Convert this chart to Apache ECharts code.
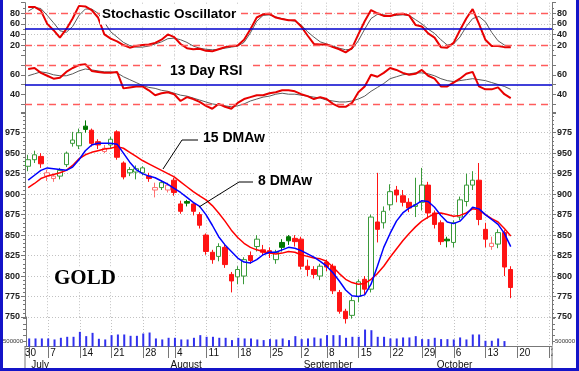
<!DOCTYPE html>
<html><head><meta charset="utf-8">
<script src="https://cdn.jsdelivr.net/npm/echarts@6/dist/echarts.min.js"></script>
<style>
html,body{margin:0;padding:0;background:#fff;}
#wrap{position:relative;width:579px;height:371px;}
#c{width:579px;height:371px;}
#frame{position:absolute;left:0;top:0;width:579px;height:371px;box-sizing:border-box;border-left:3px solid #1414c8;border-right:3px solid #1414c8;border-bottom:3px solid #1414c8;pointer-events:none;}
</style></head>
<body>
<div id="wrap"><div id="c"></div><div id="frame"></div></div>
<script>
// ---------- data ----------
const dates = ['06-30','07-01','07-02','07-03','07-07','07-08','07-09','07-10','07-11','07-14','07-15','07-16','07-17','07-18','07-21','07-22','07-23','07-24','07-25','07-28','07-29','07-30','07-31','08-01','08-04','08-05','08-06','08-07','08-08','08-11','08-12','08-13','08-14','08-15','08-18','08-19','08-20','08-21','08-22','08-25','08-26','08-27','08-28','08-29','09-02','09-03','09-04','09-05','09-08','09-09','09-10','09-11','09-12','09-15','09-16','09-17','09-18','09-19','09-22','09-23','09-24','09-25','09-26','09-29','09-30','10-01','10-02','10-03','10-06','10-07','10-08','10-09','10-10','10-13','10-14','10-15','10-16','10-17','10-20','10-21','10-22','10-23','10-24','10-27'];
const weekStarts = ['06-30','07-07','07-14','07-21','07-28','08-04','08-11','08-18','08-25','09-02','09-08','09-15','09-22','09-29','10-06','10-13','10-20','10-27'];
const monthStarts = ['07-01','08-01','09-02','10-01'];
const monthNames = ['July','August','September','October'];

// price candles from 07-01 to 10-17
const opens = [934,942,946,922,919,922,936,962,959,983,
978,964,952,960,976,938,926,927,926,922,
905,908,905,917,888,891,888,875,850,829,
824,835,802,799,800,825,836,832,831,820,
841,848,846,845,812,808,800,817,812,780,
757,752,775,796,784,866,865,887,905,898,
890,885,890,911,877,865,845,841,872,891,
911,917,857,836,839,853,808];
const closes = [942,948,937,926,922,929,950,966,975,979,
962,960,956,967,945,921,930,931,932,919,
908,914,911,902,879,889,879,862,830,820,
836,814,794,808,820,819,845,829,828,829,
835,843,842,812,808,802,812,811,782,757,
748,770,793,784,872,857,879,903,899,890,
883,887,911,877,863,842,843,865,893,911,
917,869,845,840,853,811,786];
const lows = [928,938,932,916,915,918,933,958,955,975,
958,955,950,955,942,918,922,918,923,915,
896,905,902,898,876,885,874,858,826,815,
818,810,780,790,790,815,830,825,822,815,
830,838,836,808,800,797,795,806,778,754,
742,748,768,777,780,841,858,880,890,885,
878,872,880,870,858,838,835,835,868,885,
905,862,835,832,834,800,773];
const highs = [948,953,950,930,925,932,952,976,980,990,
980,967,960,970,978,940,933,935,934,926,
914,917,914,920,892,893,890,878,852,832,
840,838,805,812,823,830,850,838,835,832,
845,850,850,848,820,812,815,820,815,783,
760,775,796,800,875,926,885,912,910,905,
895,920,932,915,880,868,848,868,897,925,
928,938,865,848,857,856,812];
// volume in thousands (07-01 .. 10-16)
const volume = [722,722,722,722,635,780,867,867,1300,925,
1213,693,635,1011,1069,1069,953,953,1156,1242,
722,635,780,780,635,635,780,1011,867,867,
780,780,578,780,722,722,635,578,664,635,
722,578,925,664,722,809,722,1011,1011,1011,
780,867,867,1502,1444,867,867,722,722,809,
809,925,664,664,780,664,664,635,809,635,
1069,1069,520,520,722,491];
const ma8 = [917,923,929,932,931,930,929,933,942,953,
960,962,962,962,961,950,939,930,925,922,
920,916,912,907,902,896,890,885,875,862,
848,838,830,822,817,816,820,826,829,829,
832,835,834,831,827,823,818,812,804,794,
783,776,775,777,790,812,835,852,867,877,
883,887,892,891,884,874,866,864,867,875,
884,882,875,869,863,852,836];
const ma15 = [908,913,919,922,924,926,929,935,943,948,
951,953,955,956,958,956,951,946,941,937,
933,929,925,921,915,909,903,898,893,886,
877,867,856,847,840,835,832,830,828,827,
828,830,829,826,824,822,821,818,811,803,
796,792,790,791,796,803,812,823,833,843,
852,860,867,872,876,877,875,873,874,877,
882,881,875,870,866,858,849];
const stochK = [92,92,85,60,48,34,50,70,94,93,
86,72,40,32,27,20,15,18,20,21,
24,30,40,35,22,14,12,13,9,8,
12,16,18,19,30,50,72,78,79,72,
69,67,67,55,38,22,21,21,16,12,
6,14,40,65,86,80,75,75,78,79,
76,58,55,42,34,16,15,24,48,70,
88,60,30,18,18,16,16];
const stochD = [84,91,89,76,62,47,44,55,76,88,
88,80,63,45,35,25,19,16,16,18,
22,26,32,33,30,25,18,14,12,11,
12,14,16,18,25,43,65,76,77,73,
70,67,65,58,45,35,26,22,18,14,
11,12,28,50,70,78,77,75,76,77,
76,68,60,50,42,30,20,22,35,55,
70,74,64,44,28,20,16];
const rsi = [66,67,62,59,56,57,63,67,70,71,
64,63,62,62,63,46,47,48,48,44,
39,41,42,40,33,37,35,32,28,25,
30,27,25,31,35,37,39,39,41,42,
44,44,43,40,38,35,37,35,30,27,
27,31,42,48,60,58,62,67,65,62,
60,61,65,59,56,48,48,52,56,61,
63,48,45,45,47,40,36];
const rsiAvg = [59,61,63,62,60,59,59,61,64,66,
65,64,63,63,62,58,55,52,49,47,
46,44,43,41,39,38,36,34,32,30,
29,28,27,28,30,33,35,37,38,40,
41,40,40,39,38,37,36,34,33,32,
32,33,35,38,43,47,51,56,58,60,
61,62,62,61,59,56,54,53,54,55,
56,55,54,52,50,48,45];
const stochLevels = [80, 20];
const rsiLevels = [70, 30];
const midLevel = 50;

// ---------- chart ----------
const chart = echarts.init(document.getElementById('c'));
const AX = '#777';
const dotted = {color:'#c2c2c2', type:[1,2], width:1};
const weekSet = new Set(weekStarts), monthSet = new Set(monthStarts);
const cats = dates.slice(1);
const band = 527 / cats.length;
const ylab = {fontSize:9, fontWeight:'bold', color:'#222', fontFamily:'Arial', margin:5};

const G_HOLLOW = '#3a9a3a', G_FILL = '#007800', R_HOLLOW = '#ff7070', R_FILL = '#ff1414';
const candleData = opens.map((o, i) => {
  const c = closes[i], prev = i > 0 ? closes[i - 1] : o;
  const col = c >= prev ? (c > o ? G_HOLLOW : G_FILL) : (c > o ? R_HOLLOW : R_FILL);
  const fill = c > o ? '#fff' : col;
  return {value:[o, c, lows[i], highs[i]], itemStyle:{color:fill, color0:fill, borderColor:col, borderColor0:col, borderWidth:1}};
});

function hiddenX(g) {
  return {type:'category', gridIndex:g, data:cats, boundaryGap:true,
    axisLine:{show:false}, axisTick:{show:false}, axisLabel:{show:false},
    splitLine:{show:true, alignWithLabel:true, interval:(i, v) => weekSet.has(v), lineStyle:dotted}};
}
function yAx(g, pos, min, max, interval, fmt, extra) {
  return Object.assign({type:'value', gridIndex:g, position:pos, min, max, interval,
    axisLine:{show:true, lineStyle:{color:AX}},
    axisTick:{show:true, length:4, lineStyle:{color:AX}},
    axisLabel:Object.assign({formatter:fmt}, ylab),
    splitLine:{show:false}}, extra || {});
}
const refLine = (v, color, type, w) => ({yAxis:v, lineStyle:{color, type, width:w}});
const redDash = v => refLine(v, '#ff5c5c', [7,5], 1.3);

const option = {
  animation:false,
  backgroundColor:'#fff',
  grid:[
    {left:25, right:27, top:2.7, height:52.9},
    {left:25, right:27, top:55.4, height:58.2},
    {left:25, right:27, top:112.2, height:204.8},
    {left:25 - band, right:27, top:317, height:29.7}
  ],
  xAxis:[
    hiddenX(0), hiddenX(1), hiddenX(2),
    {type:'category', gridIndex:3, data:dates, boundaryGap:true,
      axisLine:{show:true, lineStyle:{color:AX}},
      axisTick:{show:true, alignWithLabel:true, length:11.3, interval:(i, v) => weekSet.has(v) || monthSet.has(v), lineStyle:{color:AX}},
      axisLabel:{show:true, interval:(i, v) => weekSet.has(v), formatter:v => String(parseInt(v.slice(3), 10)),
        align:'left', margin:2, fontSize:10, color:'#111', fontFamily:'Arial', padding:[0,0,0,2]},
      splitLine:{show:true, alignWithLabel:true, interval:(i, v) => i > 0 && weekSet.has(v), lineStyle:dotted}},
    {type:'category', gridIndex:3, data:dates, boundaryGap:true, position:'bottom', offset:11.3,
      axisLine:{show:true, lineStyle:{color:AX}},
      axisTick:{show:true, alignWithLabel:true, length:9, interval:(i, v) => monthSet.has(v), lineStyle:{color:AX}},
      axisLabel:{show:true, interval:(i, v) => monthSet.has(v), formatter:v => monthNames[monthStarts.indexOf(v)] || '',
        align:'left', margin:2, fontSize:10, color:'#111', fontFamily:'Arial', padding:[0,0,0,2]},
      splitLine:{show:false}}
  ],
  yAxis:[
    yAx(0, 'left', 0, 100, 20, v => (v > 0 && v < 100) ? v : '', {minorTick:{show:true, splitNumber:2, length:2, lineStyle:{color:AX}},
      splitLine:{show:true, showMinLine:false, showMaxLine:false, lineStyle:dotted}}),
    yAx(0, 'right', 0, 100, 20, v => (v > 0 && v < 100) ? v : '', {minorTick:{show:true, splitNumber:2, length:2, lineStyle:{color:AX}}}),
    yAx(1, 'left', 20, 80, 10, v => (v === 40 || v === 60) ? v : ''),
    yAx(1, 'right', 20, 80, 10, v => (v === 40 || v === 60) ? v : ''),
    yAx(2, 'left', 750, 1000, 25, v => v < 1000 ? v : '', {minorTick:{show:true, splitNumber:5, length:2, lineStyle:{color:AX}},
      splitLine:{show:true, showMaxLine:false, lineStyle:dotted}}),
    yAx(2, 'right', 750, 1000, 25, v => v < 1000 ? v : '', {minorTick:{show:true, splitNumber:5, length:2, lineStyle:{color:AX}}}),
    yAx(3, 'left', 0, 2600, 500, v => v === 500 ? '500000' : '', {offset:-band, axisTick:{show:true, length:3, lineStyle:{color:AX}},
      axisLabel:{formatter:v => v === 500 ? '500000' : '', fontSize:6, color:'#333', fontFamily:'Arial', margin:3}}),
    yAx(3, 'right', 0, 2600, 500, v => v === 500 ? '500000' : '', {axisTick:{show:true, length:3, lineStyle:{color:AX}},
      axisLabel:{formatter:v => v === 500 ? '500000' : '', fontSize:6, color:'#333', fontFamily:'Arial', margin:3}})
  ],
  series:[
    {type:'line', name:'%D', xAxisIndex:0, yAxisIndex:0, data:stochD, symbol:'none', lineStyle:{color:'#5a5a5a', width:1},
      markLine:{silent:true, symbol:'none', label:{show:false},
        data:[redDash(stochLevels[0]), redDash(stochLevels[1]), refLine(midLevel, '#0000cc', 'solid', 1.6)]}},
    {type:'line', name:'%K', xAxisIndex:0, yAxisIndex:0, data:stochK, symbol:'none', lineStyle:{color:'#e80000', width:2}},
    {type:'line', name:'RSI avg', xAxisIndex:1, yAxisIndex:2, data:rsiAvg, symbol:'none', lineStyle:{color:'#5a5a5a', width:1},
      markLine:{silent:true, symbol:'none', label:{show:false},
        data:[redDash(rsiLevels[0]), redDash(rsiLevels[1]), refLine(midLevel, '#0000cc', 'solid', 1.6)]}},
    {type:'line', name:'RSI', xAxisIndex:1, yAxisIndex:2, data:rsi, symbol:'none', lineStyle:{color:'#e80000', width:2}},
    {type:'candlestick', name:'Gold', xAxisIndex:2, yAxisIndex:4, data:candleData, barWidth:5, clip:false},
    {type:'line', name:'15 DMAw', xAxisIndex:2, yAxisIndex:4, data:ma15, symbol:'none', lineStyle:{color:'#ff0000', width:1.5}},
    {type:'line', name:'8 DMAw', xAxisIndex:2, yAxisIndex:4, data:ma8, symbol:'none', lineStyle:{color:'#0000ff', width:1.5}},
    {type:'bar', name:'Volume', xAxisIndex:3, yAxisIndex:6, data:['-'].concat(volume), barWidth:2, itemStyle:{color:'#3030ee'}}
  ],
  graphic:[
    {type:'rect', z:50, silent:true, shape:{x:3, y:344.5, width:21.5, height:24}, style:{fill:'#fff'}},
    {type:'rect', z:50, silent:true, shape:{x:552.5, y:344.5, width:23.5, height:24}, style:{fill:'#fff'}},
    {type:'line', z:51, silent:true, shape:{x1:25, y1:346.7, x2:25, y2:368}, style:{stroke:AX, lineWidth:1}},
    {type:'line', z:51, silent:true, shape:{x1:552, y1:346.7, x2:552, y2:368}, style:{stroke:AX, lineWidth:1}},
    {type:'text', z:100, x:100, y:14.5, style:{text:'Stochastic Oscillator', font:'bold 13.5px Arial', fill:'#000', verticalAlign:'middle', backgroundColor:'#fff', padding:[3,3,3,2]}},
    {type:'text', z:100, x:161, y:71.5, style:{text:'13 Day RSI', font:'bold 14px Arial', fill:'#000', verticalAlign:'middle', backgroundColor:'#fff', padding:[4,9,4,9]}},
    {type:'text', z:100, x:201, y:138, style:{text:'15 DMAw', font:'bold 14px Arial', fill:'#000', verticalAlign:'middle', backgroundColor:'#fff', padding:[2,2,2,2]}},
    {type:'text', z:100, x:256, y:181.5, style:{text:'8 DMAw', font:'bold 14px Arial', fill:'#000', verticalAlign:'middle', backgroundColor:'#fff', padding:[2,2,2,2]}},
    {type:'text', z:100, x:52, y:279, style:{text:'GOLD', font:'bold 21px "Liberation Serif", "Times New Roman", serif', fill:'#000', verticalAlign:'middle', backgroundColor:'#fff', padding:[1,2,1,2]}},
    {type:'polyline', z:100, silent:true, shape:{points:[[198,140],[182,140],[163,169]]}, style:{stroke:'#000', lineWidth:1, fill:null}},
    {type:'polyline', z:100, silent:true, shape:{points:[[253,182],[239,182],[199,207]]}, style:{stroke:'#000', lineWidth:1, fill:null}}
  ]
};
chart.setOption(option);
</script>
</body></html>
